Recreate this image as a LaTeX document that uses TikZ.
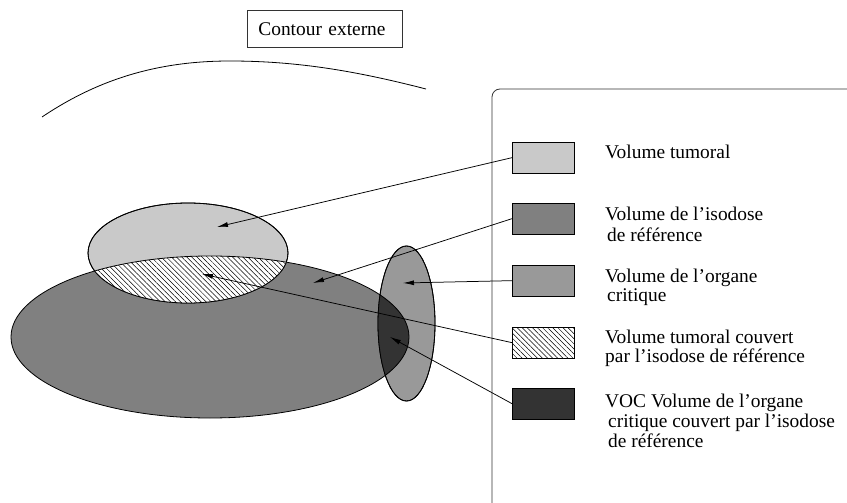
\documentclass[tikz,border=0pt]{standalone}
\usepackage{fontspec}
\setmainfont{Liberation Serif}
\usetikzlibrary{arrows.meta,patterns.meta}
\definecolor{tumourgrey}{HTML}{C9C9C9}
\definecolor{isodosegrey}{HTML}{808080}
\definecolor{organgrey}{HTML}{999999}
\definecolor{vocgrey}{HTML}{333333}
\begin{document}
\begin{tikzpicture}[x=1pt,y=-1pt,
  outline/.style={draw=black,line width=0.8pt},
  swatch/.style={draw=black,line width=0.8pt,minimum width=62pt,minimum height=30.5pt,
    inner sep=0pt,anchor=north west},
  legtext/.style={anchor=north west,inner sep=0pt,align=left,
    font=\fontsize{19.4}{19}\selectfont},
  hatch/.style={pattern={Lines[angle=-45,distance=3.6pt,line width=0.5pt]}},
  pointer/.style={line width=0.75pt,-{Latex[length=11pt,width=5pt]}},
]
% canvas
\fill[white] (0,0) rectangle (847,503);
\useasboundingbox (0,0) rectangle (847,503);

% outer body contour and its label
\draw[line width=0.8pt] (42,117) .. controls (100,78) and (160,61) .. (230,61)
  .. controls (300,61) and (360,72) .. (426,89);
\node[draw=black!80,line width=0.8pt,anchor=north west,minimum height=37pt,
  inner xsep=11pt,text width=133pt,align=left,font=\fontsize{19.4}{19}\selectfont]
  (contour) at (247,10) {Contour externe};

% reference isodose volume
\path[fill=isodosegrey,outline] (210,337) ellipse [x radius=199,y radius=81];
% tumour volume
\path[fill=tumourgrey,outline] (188,253) ellipse [x radius=100,y radius=50];
% tumour covered by the isodose
\begin{scope}
  \clip (188,253) ellipse [x radius=100,y radius=50];
  \fill[white] (210,337) ellipse [x radius=199,y radius=81];
  \path[hatch] (210,337) ellipse [x radius=199,y radius=81];
  \draw[line width=0.8pt] (210,337) ellipse [x radius=199,y radius=81];
\end{scope}
\draw[line width=0.8pt] (188,253) ellipse [x radius=100,y radius=50];
% organ at risk
\path[fill=organgrey,outline] (406.5,323.5) ellipse [x radius=28.5,y radius=77.5];
% organ covered by the isodose
\begin{scope}
  \clip (406.5,323.5) ellipse [x radius=28.5,y radius=77.5];
  \path[fill=vocgrey] (210,337) ellipse [x radius=199,y radius=81];
  \draw[line width=0.8pt] (210,337) ellipse [x radius=199,y radius=81];
\end{scope}
\draw[line width=0.8pt] (406.5,323.5) ellipse [x radius=28.5,y radius=77.5];

% legend frame
\draw[draw=black!80,line width=0.8pt,rounded corners=8pt] (492,530) -- (492,89) -- (880,89);

% legend swatches
\node[swatch,fill=tumourgrey] (s1) at (512,142) {};
\node[swatch,fill=isodosegrey] (s2) at (512,203) {};
\node[swatch,fill=organgrey] (s3) at (512,265) {};
\node[swatch,fill=white,hatch] (s4) at (512,327) {};
\node[swatch,fill=vocgrey] (s5) at (512,388) {};

% legend labels
\node[legtext] (l1) at (605,144.7) {\strut Volume tumoral};
\node[legtext] (l2) at (605,206.7) {\strut Volume de l’isodose\\[1pt]\hspace*{2pt}de référence};
\node[legtext] (l3) at (605,268.4) {\strut Volume de l’organe\\\hspace*{2pt}critique};
\node[legtext] (l4) at (605,329.7) {\strut Volume tumoral couvert\\[-1pt]par l’isodose de référence};
\node[legtext] (l5) at (605,393.4) {\strut VOC Volume de l’organe\\[0.5pt]\hspace*{3pt}critique couvert par l’isodose\\[0.5pt]\hspace*{3pt}de référence};

% pointer targets
\coordinate (t1) at (217,227);
\coordinate (t2) at (313,283);
\coordinate (t3) at (403,283);
\coordinate (t4) at (202,274);
\coordinate (t5) at (390,337);

% pointers
\draw[pointer] (s1.west) -- (t1);
\draw[pointer] (s2.west) -- (t2);
\draw[pointer] (s3.west) -- (t3);
\draw[pointer] (s4.west) -- (t4);
\draw[pointer] (s5.west) -- (t5);
\end{tikzpicture}
\end{document}
